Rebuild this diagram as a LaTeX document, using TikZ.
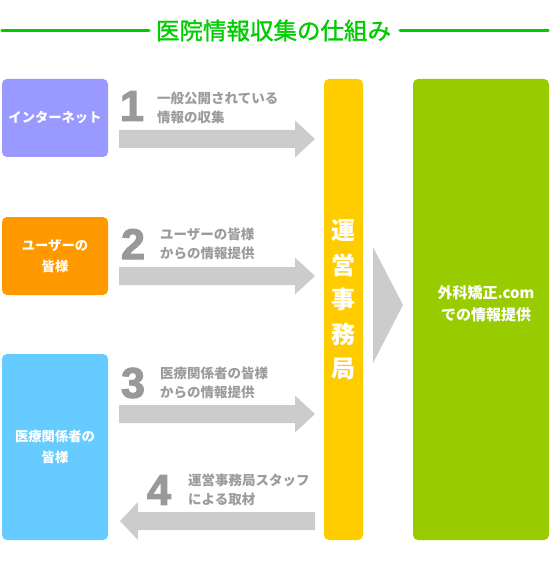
\documentclass[tikz,border=0pt]{standalone}
\usepackage{fontspec}
\setmainfont{Noto Sans CJK JP}
\newfontfamily\numfont[BoldFeatures={FakeBold=2.5}]{Liberation Sans}
\newfontfamily\titlefont[FakeBold=1.2]{Noto Sans CJK JP}
\usepackage{tikz}
\usetikzlibrary{positioning}
\definecolor{qgreen}{HTML}{00CC00}
\definecolor{qviolet}{HTML}{9999FF}
\definecolor{qorange}{HTML}{FF9900}
\definecolor{qsky}{HTML}{66CCFF}
\definecolor{qyellow}{HTML}{FFCC00}
\definecolor{qlime}{HTML}{99CC00}
\definecolor{qarrow}{HTML}{CCCCCC}
\definecolor{qnum}{HTML}{999999}
\definecolor{qnote}{HTML}{9C9C9C}
\tikzset{
  srcbox/.style={rounded corners=5pt, minimum width=106pt, inner sep=0pt,
    text=white, align=center, font=\bfseries\fontsize{13.3}{21}\selectfont},
  tallbox/.style={rounded corners=5pt, minimum height=461pt, inner sep=0pt},
  stepnum/.style={inner sep=0pt, text=qnum, font=\numfont\bfseries\fontsize{43}{43}\selectfont},
  stepnote/.style={anchor=west, inner sep=0pt, align=left, text=qnote,
    font=\bfseries\fontsize{13.5}{19.5}\selectfont},
  titleline/.style={line width=3.5pt, qgreen, line cap=round}
}
\begin{document}
\begin{tikzpicture}[x=1pt,y=-1pt]
    \useasboundingbox (0,0) rectangle (550,569);

    % Title
    \node[inner sep=0pt, text=qgreen, font=\titlefont\fontsize{23.5}{24}\selectfont] (title) at (273.5,30.5) {医院情報収集の仕組み};
    \draw[titleline] (2,30.5) -- ([xshift=-7pt]title.west);
    \draw[titleline] ([xshift=9pt]title.east) -- (548,30.5);

    % Sources
    \node[srcbox, fill=qviolet, minimum height=78pt] (inet) at (55,118) {インターネット};
    \node[srcbox, fill=qorange, minimum height=78pt] (user) at (55,256) {ユーザーの\\皆様};
    \node[srcbox, fill=qsky, minimum height=186pt] (med) at (55,447) {医療関係者の\\皆様};

    % Office and site
    \node[tallbox, fill=qyellow, minimum width=39pt] (office) at (343.5,309.5) {};
    \node[inner sep=0pt, text=white, align=center, font=\bfseries\fontsize{24}{34.5}\selectfont] (officetext) at (343.5,300) {運\\営\\事\\務\\局};
    \node[tallbox, fill=qlime, minimum width=136pt] (site) at (481,309.5) {};
    \node[inner sep=0pt, text=white, align=center, font=\bfseries\fontsize{15}{22}\selectfont] (sitetext) at (486,304) {外科矯正.com\\での情報提供};

    % Block arrows
    \foreach \c in {139,276,414} {
        \fill[qarrow] (119,\c-9) -- (295,\c-9) -- (295,\c-18.5) -- (315,\c)
            -- (295,\c+18.5) -- (295,\c+9) -- (119,\c+9) -- cycle;
    }
    \fill[qarrow] (315,512) -- (138,512) -- (138,502) -- (120,521)
        -- (138,540) -- (138,530) -- (315,530) -- cycle;
    \fill[qarrow] (373,247) -- (403,305) -- (373,363) -- cycle;

    % Step numbers and notes
    \node[stepnum] (num1) at (132,106) {1};
    \node[stepnote] (note1) at (157,108) {一般公開されている\\情報の収集};
    \node[stepnum] (num2) at (133,244) {2};
    \node[stepnote] (note2) at (160,244) {ユーザーの皆様\\からの情報提供};
    \node[stepnum] (num3) at (133,383) {3};
    \node[stepnote] (note3) at (160,383) {医療関係者の皆様\\からの情報提供};
    \node[stepnum] (num4) at (159,490) {4};
    \node[stepnote] (note4) at (188,490) {運営事務局スタッフ\\による取材};
\end{tikzpicture}
\end{document}
